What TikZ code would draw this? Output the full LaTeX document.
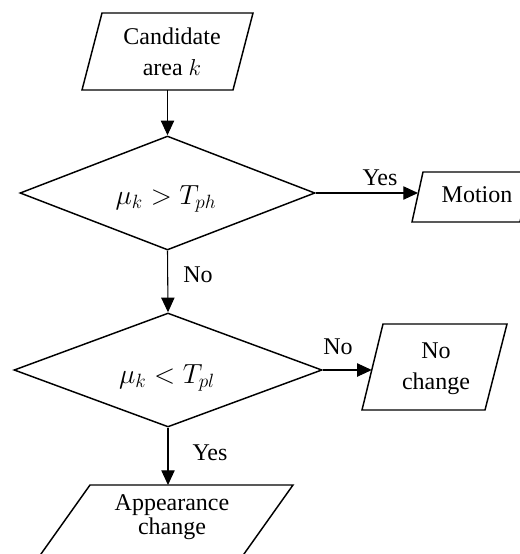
\documentclass[tikz,border=0pt]{standalone}
\usepackage{fontspec}
\setmainfont{Liberation Serif}
\usetikzlibrary{arrows.meta,shapes.geometric}
\begin{document}
\begin{tikzpicture}[x=0.75pt,y=-0.75pt,
  box/.style={draw=black,line width=1.1pt,line join=miter},
  arr/.style={draw=black,line width=0.8pt,-{Triangle[length=11pt,width=10pt]}},
  dec/.style={diamond,draw=black,line width=1.1pt,inner sep=0pt},
  txt/.style={font=\fontsize{18}{23}\selectfont,align=center,inner sep=0pt},
  mtxt/.style={font=\fontsize{20.74}{24}\selectfont,inner sep=0pt},
  lab/.style={font=\fontsize{18}{22}\selectfont,inner sep=0pt}]
\clip (0,0) rectangle (520,554);
% Candidate area
\draw[box] (102,13) -- (253,13) -- (233,90) -- (82,90) -- cycle;
\node[txt] (cand) at (172,52) {Candidate\\area $k$};
\coordinate (candb) at (167.5,90);
% decision 1
\node[dec,minimum width=221.25pt,minimum height=85.5pt] (d1) at (167.5,193) {};
\node[mtxt] (d1t) at (166,199) {$\mu_k > T_{ph}$};
% Motion
\draw[box] (423,172) -- (531,172) -- (520,222) -- (412,222) -- cycle;
\node[txt] (mot) at (477,195) {Motion};
\coordinate (motin) at (418,193);
% decision 2
\node[dec,minimum width=231pt,minimum height=85.5pt] (d2) at (168,370) {};
\node[mtxt] (d2t) at (167,378) {$\mu_k < T_{pl}$};
% No change
\draw[box] (383,324) -- (507,324) -- (485,410) -- (362,410) -- cycle;
\node[txt] (noch) at (436,369) {No\\change};
\coordinate (nochin) at (371.8,370);
% Appearance change
\draw[box] (22.5,580) -- (90,485) -- (293,485) -- (225.5,580);
\node[txt,font=\fontsize{18}{18}\selectfont] (app) at (172,517) {Appearance\\change};
\coordinate (appin) at (168,485);
% connectors
\draw[arr] (candb) -- (d1.north);
\draw[arr] (d1.east) -- (motin);
\draw[arr] (d1.south) -- (d2.north);
\draw[arr] (d2.east) -- (nochin);
\draw[arr] (d2.south) -- (appin);
% labels
\node[lab] (y1) at (380,178) {Yes};
\node[lab] (n1) at (198,275) {No};
\node[lab] (n2) at (338,347) {No};
\node[lab] (y2) at (210,453) {Yes};
\end{tikzpicture}
\end{document}
